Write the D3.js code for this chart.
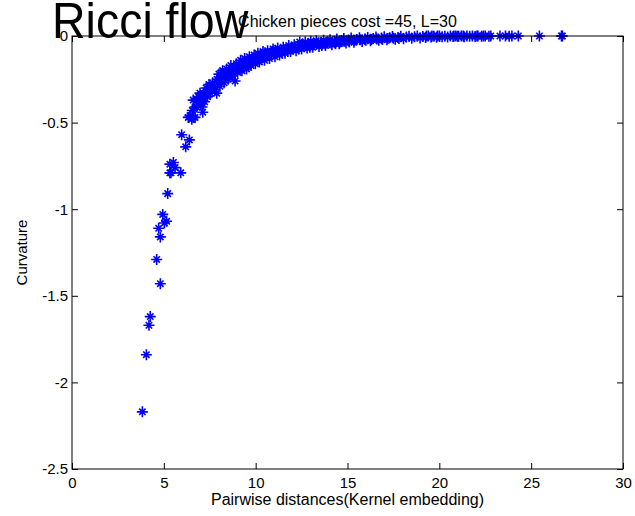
<!DOCTYPE html>
<html>
<head>
<meta charset="utf-8">
<script src="https://cdn.jsdelivr.net/npm/d3@7"></script>
<style>
    body { margin: 0; background: white; }
    text { font-family: "Liberation Sans", Arial, sans-serif; }
</style>
</head>
<body>
<div id="canvas"></div>
<script>
"use strict"

/* chart text */
let mainTitle = "Ricci flow"
let subTitle = "Chicken pieces cost =45, L=30"
let xLabel = "Pairwise distances(Kernel embedding)"
let yLabel = "Curvature"

/* axis ticks */
let xTicks = [0, 5, 10, 15, 20, 25, 30]
let yTicks = [0, -0.5, -1, -1.5, -2, -2.5]

/* isolated points on the steep part [distance, curvature] */
let steepPoints = [
    [3.83, -2.17], [4.05, -1.84], [4.19, -1.67], [4.26, -1.62], [4.81, -1.43],
    [4.61, -1.29], [4.81, -1.16], [4.72, -1.11], [5.03, -1.08], [5.15, -1.07],
    [4.94, -1.03], [5.21, -0.91], [5.39, -0.79], [5.33, -0.79], [5.92, -0.79],
    [5.61, -0.76], [5.52, -0.73], [5.33, -0.74], [6.19, -0.64], [6.39, -0.60],
    [5.97, -0.57], [6.52, -0.48], [6.60, -0.47], [6.33, -0.47], [6.42, -0.46],
    [6.70, -0.47], [6.79, -0.41], [6.70, -0.41], [7.06, -0.39], [6.60, -0.37],
    [6.79, -0.37], [6.97, -0.33], [7.12, -0.44], [6.88, -0.35], [6.55, -0.43]
]

/* the dense band [distance, curvature] */
let bandPoints = [
    [7.02, -0.37], [7.08, -0.41], [7.15, -0.33], [7.22, -0.38], [7.30, -0.30], [7.38, -0.35],
    [7.46, -0.28], [7.55, -0.33], [7.66, -0.27], [7.78, -0.31], [7.88, -0.33], [7.90, -0.25],
    [8.00, -0.22], [8.05, -0.29], [8.12, -0.25], [8.20, -0.20], [8.28, -0.27], [8.35, -0.23],
    [8.42, -0.19], [8.50, -0.25], [8.58, -0.21], [8.65, -0.17], [8.72, -0.23], [8.80, -0.19],
    [8.88, -0.26], [8.95, -0.16],
    [9.02, -0.21], [9.10, -0.17], [9.18, -0.14], [9.25, -0.20], [9.33, -0.16], [9.40, -0.13],
    [9.50, -0.19], [9.58, -0.15], [9.66, -0.12], [9.75, -0.17], [9.83, -0.14], [9.92, -0.11],
    [9.98, -0.16],
    [10.05, -0.13], [10.12, -0.10], [10.20, -0.15], [10.30, -0.12], [10.40, -0.09], [10.48, -0.14],
    [10.56, -0.11], [10.65, -0.085], [10.75, -0.13], [10.85, -0.10], [10.95, -0.075],
    [11.05, -0.12], [11.12, -0.09], [11.20, -0.07], [11.30, -0.11], [11.40, -0.085], [11.50, -0.065],
    [11.60, -0.10], [11.70, -0.075], [11.80, -0.055], [11.90, -0.09],
    [12.00, -0.07], [12.10, -0.05], [12.20, -0.085], [12.30, -0.06], [12.40, -0.035], [12.50, -0.075],
    [12.60, -0.055], [12.70, -0.035], [12.80, -0.07], [12.90, -0.05],
    [13.00, -0.03], [13.10, -0.065], [13.20, -0.045], [13.30, -0.028], [13.45, -0.06], [13.55, -0.04],
    [13.70, -0.025], [13.80, -0.055], [13.92, -0.035],
    [14.05, -0.022], [14.15, -0.05], [14.30, -0.032], [14.42, -0.018], [14.55, -0.045], [14.68, -0.028],
    [14.80, -0.015], [14.92, -0.04],
    [15.05, -0.025], [15.20, -0.012], [15.35, -0.036], [15.50, -0.02], [15.65, -0.01], [15.80, -0.032],
    [15.95, -0.017],
    [16.10, -0.008], [16.25, -0.028], [16.40, -0.015], [16.55, -0.006], [16.70, -0.025], [16.85, -0.012],
    [17.00, -0.004],
    [17.15, -0.022], [17.30, -0.01], [17.45, -0.003], [17.60, -0.019], [17.75, -0.008], [17.90, -0.002]
]

/* extra points filling the middle of the band [distance, curvature] */
let bandFillPoints = [
    [7.12, -0.35], [7.34, -0.32], [7.50, -0.30], [7.72, -0.29], [7.95, -0.27], [8.15, -0.23],
    [8.38, -0.21], [8.55, -0.23], [8.75, -0.21], [8.92, -0.20], [9.15, -0.19], [9.30, -0.18],
    [9.45, -0.16], [9.62, -0.17], [9.80, -0.15], [9.95, -0.13], [10.10, -0.14], [10.25, -0.11],
    [10.38, -0.12], [10.52, -0.10], [10.70, -0.11], [10.90, -0.09], [11.00, -0.10], [11.25, -0.09],
    [11.45, -0.10], [11.55, -0.08], [11.75, -0.09], [11.95, -0.07], [12.15, -0.065], [12.35, -0.075],
    [12.55, -0.05], [12.75, -0.055], [12.95, -0.065], [13.15, -0.05], [13.40, -0.04], [13.60, -0.055],
    [13.85, -0.04], [14.10, -0.04], [14.35, -0.045], [14.60, -0.035], [14.85, -0.03], [15.10, -0.035],
    [15.40, -0.025], [15.70, -0.022], [16.00, -0.025], [16.30, -0.02], [16.60, -0.018], [16.90, -0.02],
    [17.20, -0.015], [17.50, -0.013], [17.80, -0.014]
]

/* the flat tail near zero [distance, curvature] */
let tailPoints = [
    [18.05, -0.016], [18.20, -0.006], [18.35, -0.001], [18.50, -0.013], [18.65, -0.004], [18.80, 0],
    [18.95, -0.011],
    [19.10, -0.003], [19.25, -0.009], [19.30, 0], [19.40, 0], [19.55, -0.006], [19.60, 0], [19.70, -0.002],
    [19.85, -0.007], [19.90, 0],
    [20.00, 0], [20.15, -0.005], [20.30, -0.001], [20.45, -0.006], [20.60, 0], [20.75, -0.003],
    [20.80, 0], [20.90, 0], [21.00, -0.001],
    [21.05, -0.002], [21.20, 0], [21.30, 0], [21.35, -0.004], [21.50, 0], [21.65, -0.002], [21.80, 0],
    [21.95, -0.003], [22.05, 0],
    [22.10, 0], [22.30, -0.002], [22.40, 0], [22.50, 0], [22.70, -0.001], [22.80, 0],
    [23.30, 0], [23.60, 0], [23.80, -0.001], [23.95, 0], [24.30, 0], [25.45, 0], [26.65, 0], [26.70, 0]
]

let svgWidth = 635
let svgHeight = 516
let margin = {
    top: 36,
    right: 12,
    bottom: 47,
    left: 72
}
let plotWidth = svgWidth - margin.left - margin.right
let plotHeight = svgHeight - margin.top - margin.bottom

/*Create drawing canvas*/
let svg = d3.select("#canvas")
    .append("svg")
    .attr("width", svgWidth)
    .attr("height", svgHeight)

svg.append("rect")
    .attr("width", svgWidth)
    .attr("height", svgHeight)
    .attr("fill", "white")

let viz = svg.append("g")
    .attr("transform", `translate(${margin.left},${margin.top})`)

/* scales */
let xScale = d3.scaleLinear()
    .domain([0, 30])
    .range([0, plotWidth])

let yScale = d3.scaleLinear()
    .domain([-2.5, 0])
    .range([plotHeight, 0])

/* asterisk marker: plus with a small x */
let starPath = "M-5.5,0H5.5M0,-5.5V5.5M-3.2,-3.2L3.2,3.2M-3.2,3.2L3.2,-3.2"

let allPoints = steepPoints.concat(bandPoints, bandFillPoints, tailPoints)

viz.selectAll("path.dataPoint")
    .data(allPoints)
    .join("path")
    .classed("dataPoint", true)
    .attr("d", starPath)
    .attr("transform", d => `translate(${xScale(d[0])},${yScale(d[1])})`)
    .attr("fill", "none")
    .attr("stroke", "#0000ff")
    .attr("stroke-width", 1.6)

/* axes, ticks point inwards like matlab */
let bottomAxis = d3.axisBottom(xScale)
    .tickValues(xTicks)
    .tickSizeInner(-6)
    .tickSizeOuter(0)
    .tickPadding(8)
    .tickFormat(d => String(d))

let topAxis = d3.axisTop(xScale)
    .tickValues(xTicks)
    .tickSizeInner(-6)
    .tickSizeOuter(0)
    .tickFormat("")

let leftAxis = d3.axisLeft(yScale)
    .tickValues(yTicks)
    .tickSizeInner(-6)
    .tickSizeOuter(0)
    .tickPadding(4)
    .tickFormat(d => String(d))

let rightAxis = d3.axisRight(yScale)
    .tickValues(yTicks)
    .tickSizeInner(-6)
    .tickSizeOuter(0)
    .tickFormat("")

let gx = viz.append("g")
    .attr("transform", `translate(0,${plotHeight})`)
    .call(bottomAxis)
let gxt = viz.append("g").call(topAxis)
let gy = viz.append("g").call(leftAxis)
let gyr = viz.append("g")
    .attr("transform", `translate(${plotWidth},0)`)
    .call(rightAxis)

for (let g of [gx, gxt, gy, gyr]) {
    g.select(".domain").remove()
    g.selectAll("line").attr("stroke", "black")
    g.selectAll("text")
        .attr("fill", "black")
        .style("font-size", "15px")
        .style("font-family", "'Liberation Sans', Arial, sans-serif")
}

/* box around the plot */
viz.append("rect")
    .attr("width", plotWidth)
    .attr("height", plotHeight)
    .attr("fill", "none")
    .attr("stroke", "black")
    .attr("stroke-width", 1)

/* axis labels */
viz.append("text")
    .attr("x", plotWidth / 2)
    .attr("y", plotHeight + 36)
    .attr("text-anchor", "middle")
    .style("font-size", "16px")
    .text(xLabel)

svg.append("text")
    .attr("transform", `translate(27,${margin.top + plotHeight / 2}) rotate(-90)`)
    .attr("text-anchor", "middle")
    .style("font-size", "15px")
    .text(yLabel)

/* subtitle above the plot */
viz.append("text")
    .attr("x", plotWidth / 2)
    .attr("y", -9)
    .attr("text-anchor", "middle")
    .style("font-size", "16px")
    .text(subTitle)

/* big title drawn last so it overlaps the subtitle */
svg.append("text")
    .attr("transform", "translate(52,38) scale(0.93,1)")
    .style("font-size", "50px")
    .text(mainTitle)
</script>
</body>
</html>
